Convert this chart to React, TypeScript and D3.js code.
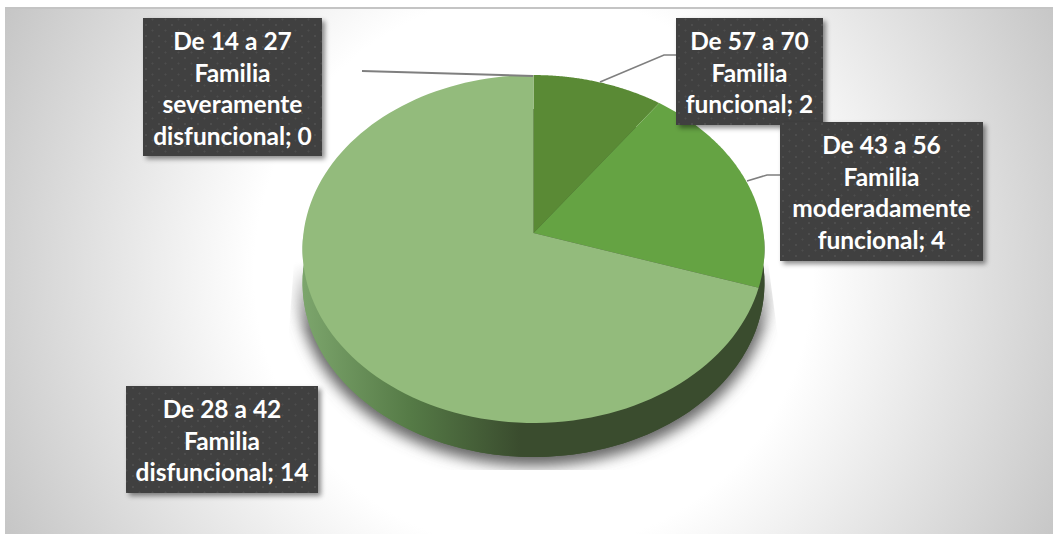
import React from "react";
import * as d3 from "d3";

const categories = ["De 57 a 70 Familia funcional", "De 43 a 56 Familia moderadamente funcional", "De 28 a 42 Familia disfuncional", "De 14 a 27 Familia severamente disfuncional"];
const values = [2, 4, 14, 0];
const topColors = ["#5a8a35", "#65a343", "#93bb7c", "#4a7a2e"];
const labelLines = [
  ["De 57 a 70", "Familia", "funcional; 2"],
  ["De 43 a 56", "Familia", "moderadamente", "funcional; 4"],
  ["De 28 a 42", "Familia", "disfuncional; 14"],
  ["De 14 a 27", "Familia", "severamente", "disfuncional; 0"],
];
const labelBoxes = [
  { x: 676, y: 18, w: 147, h: 107 },
  { x: 780, y: 122, w: 203, h: 139 },
  { x: 126, y: 386, w: 192, h: 107 },
  { x: 143, y: 18, w: 179, h: 138 },
];
const leaders = [
  [[600, 82], [664, 55], [676, 55]],
  [[747, 181], [767, 175], [780, 175]],
  [],
  [[362, 71], [533, 76]],
];

const W = 1058, H = 534;
const cx = 533.5, cy = 233, R = 230, K = -0.092, A = 172.5, DEPTH = 34;

// perspective projection of the unit circle point at clockwise angle t from 12 o'clock
const project = (t: number, r = 1, dy = 0): [number, number] => {
  const x = r * Math.sin(t), y = -r * Math.cos(t);
  const d = 1 + K * y;
  return [cx + (R * x) / d, cy + dy + (A * y) / d];
};
const line = d3.line();
const sweep = (a0: number, a1: number, dy = 0) =>
  d3.range(0, 121).map((i) => project(a0 + ((a1 - a0) * i) / 120, 1, dy));

export default function App() {
  const arcs = d3.pie<number>().sort(null).value((d) => d)(values);
  const fullLow = line(sweep(0, 2 * Math.PI, DEPTH))! + "Z";
  return (
    <svg width={W} height={H} style={{ position: "absolute", left: 0, top: 0 }}>
      <defs>
        <radialGradient id="bg" gradientUnits="userSpaceOnUse" cx={cx} cy={272} r={620}>
          <stop offset="0.45" stopColor="#ffffff" />
          <stop offset="1" stopColor="#c0c0c0" />
        </radialGradient>
        <linearGradient id="side" gradientUnits="userSpaceOnUse" x1={303} x2={520} y1={0} y2={0}>
          <stop offset="0" stopColor="#7ca56c" />
          <stop offset="0.5" stopColor="#557a46" />
          <stop offset="1" stopColor="#3a4c2e" />
        </linearGradient>
        <linearGradient id="fade" gradientUnits="userSpaceOnUse" x1={0} x2={0} y1={262} y2={330}>
          <stop offset="0" stopColor="#000" />
          <stop offset="1" stopColor="#fff" />
        </linearGradient>
        <mask id="shadowMask" maskUnits="userSpaceOnUse" x={0} y={0} width={W} height={H}>
          <polygon points="294,262 288,345 288,470 779,470 779,345 768,262" fill="url(#fade)" />
        </mask>
        <filter id="blur" x="-10%" y="-10%" width="120%" height="120%">
          <feGaussianBlur stdDeviation="7" />
        </filter>
        <filter id="boxShadow" x="-15%" y="-15%" width="130%" height="130%">
          <feDropShadow dx="3" dy="3" stdDeviation="2.5" floodColor="#000" floodOpacity="0.45" />
        </filter>
        <pattern id="dots" width="13" height="11" patternUnits="userSpaceOnUse">
          <rect width="13" height="11" fill="#404040" />
          <circle cx="3" cy="3" r="1" fill="#535353" />
          <circle cx="9.5" cy="8.5" r="1" fill="#4e4e4e" />
        </pattern>
      </defs>

      <rect x={5} y={8} width={1048} height={526} fill="url(#bg)" />
      <line x1={5} x2={1053} y1={8} y2={8} stroke="#c4c4c4" strokeWidth={2} />

      <g mask="url(#shadowMask)">
        <path d={fullLow} transform="translate(0 4)" fill="#666" stroke="#666" strokeWidth={10} filter="url(#blur)" />
      </g>

      <path d={fullLow} fill="url(#side)" />
      {/* side wall, joining the top rim with the lower rim */}
      <path d={line(sweep(Math.PI * 0.5, Math.PI * 1.5))! + "L" + sweep(Math.PI * 1.5, Math.PI * 0.5, DEPTH).map((p) => p.join(",")).join("L") + "Z"} fill="url(#side)" />

      {arcs.map((a, i) =>
        a.endAngle > a.startAngle ? (
          <path key={categories[i]} d={"M" + cx + "," + cy + "L" + line(sweep(a.startAngle, a.endAngle))!.slice(1) + "Z"} fill={topColors[i]} />
        ) : null
      )}

      {leaders.map((pts, i) =>
        pts.length ? <path key={i} d={line(pts as [number, number][])!} fill="none" stroke="#7f7f7f" strokeWidth={i === 3 ? 2 : 1.6} /> : null
      )}

      {labelBoxes.map((b, i) => (
        <g key={i}>
          <rect x={b.x} y={b.y} width={b.w} height={b.h} fill="url(#dots)" filter="url(#boxShadow)" />
          <text textAnchor="middle" fontFamily="Lato, 'Open Sans', sans-serif" fontWeight={700} fontSize={24.5} fill="#fff">
            {labelLines[i].map((t, j) => (
              <tspan key={j} x={b.x + b.w / 2} y={b.y + 32 + j * 31.7}>{t}</tspan>
            ))}
          </text>
        </g>
      ))}
    </svg>
  );
}
